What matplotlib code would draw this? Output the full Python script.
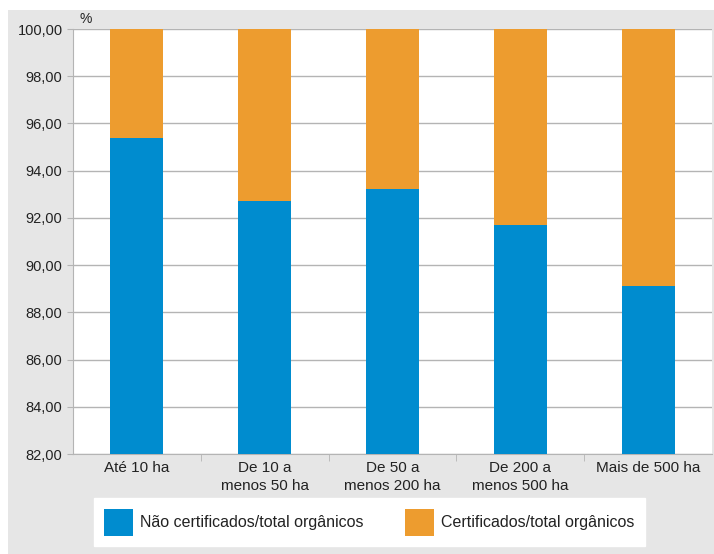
import matplotlib.pyplot as plt
from matplotlib.patches import Rectangle, Patch
from matplotlib.ticker import FixedLocator, FuncFormatter

# Dados
categorias = ['Até 10 ha', 'De 10 a\nmenos 50 ha', 'De 50 a\nmenos 200 ha',
              'De 200 a\nmenos 500 ha', 'Mais de 500 ha']
nao_certificados = [95.38, 92.72, 93.22, 91.70, 89.12]
certificados = [100 - v for v in nao_certificados]

azul = '#008ccf'
laranja = '#ed9c2f'
cinza = '#b4b4b4'

plt.rcParams['font.family'] = ['Liberation Sans', 'DejaVu Sans']

fig = plt.figure(figsize=(7.14, 5.54), dpi=100, facecolor='white')
fig.patches.append(Rectangle((8 / 714, 0), 1, 1 - 10 / 554, transform=fig.transFigure,
                             facecolor='#e6e6e6', edgecolor='none', zorder=-10))

ax = fig.add_axes([73 / 714, 1 - 454 / 554, 639 / 714, 425 / 554])
ax.set_facecolor('white')

x = range(len(categorias))
ax.bar(x, nao_certificados, width=0.415, color=azul, zorder=3)
ax.bar(x, certificados, width=0.415, bottom=nao_certificados, color=laranja, zorder=3)

ax.set_ylim(82, 100)
ax.set_xlim(-0.5, 4.5)
ax.set_yticks([82 + 2 * i for i in range(10)])
ax.yaxis.set_major_formatter(FuncFormatter(lambda v, p: f'{v:.2f}'.replace('.', ',')))
ax.grid(axis='y', color=cinza, linewidth=1, zorder=0)

ax.set_xticks(list(x))
ax.set_xticklabels(categorias, linespacing=1.35)
ax.xaxis.set_minor_locator(FixedLocator([0.5, 1.5, 2.5, 3.5]))
ax.tick_params(axis='x', which='major', length=0, pad=5, labelsize=11, colors='#222222')
ax.tick_params(axis='x', which='minor', length=5, color=cinza)
ax.tick_params(axis='y', length=4, color=cinza, labelsize=10.5, colors='#222222')

for s in ['top', 'right']:
    ax.spines[s].set_visible(False)
for s in ['left', 'bottom']:
    ax.spines[s].set_color(cinza)

fig.text(80 / 714, 1 - 19 / 554, '%', fontsize=10, color='#222222', va='center')

handles = [Patch(facecolor=azul, label='Não certificados/total orgânicos'),
           Patch(facecolor=laranja, label='Certificados/total orgânicos')]
leg = fig.legend(handles=handles, loc='center', bbox_to_anchor=(0.517, 0.057), ncol=2,
                 fontsize=11.5, handlelength=1.8, handleheight=2.25, handletextpad=0.45,
                 columnspacing=2.6, fancybox=False, framealpha=1, edgecolor='white',
                 borderpad=0.65)
for t in leg.get_texts():
    t.set_color('#222222')

fig.savefig('out.png', dpi=100)
